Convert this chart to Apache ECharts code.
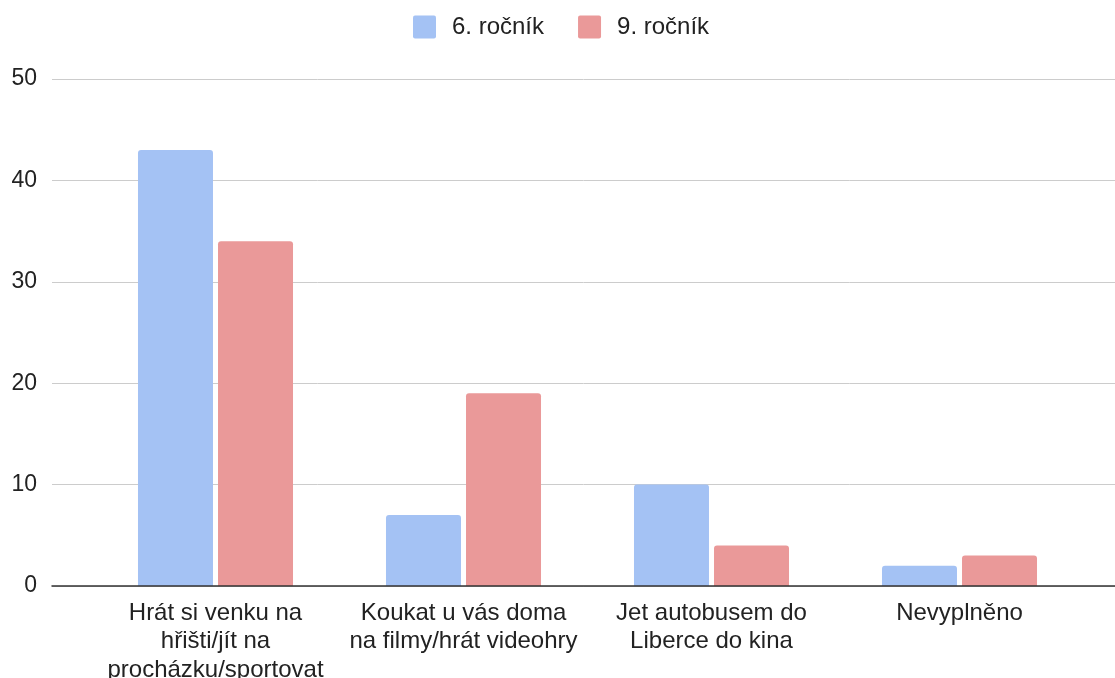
<!DOCTYPE html>
<html>
<head>
<meta charset="utf-8">
<script src="https://cdn.jsdelivr.net/npm/echarts@6/dist/echarts.min.js"></script>
<style>
  html, body { margin: 0; padding: 0; background: #fff; }
  #chart { width: 1115px; height: 678px; }
</style>
</head>
<body>
<div id="chart"></div>
<script>
  // data
  var categories = [
    'Hrát si venku na\nhřišti/jít na\nprocházku/sportovat',
    'Koukat u vás doma\nna filmy/hrát videohry',
    'Jet autobusem do\nLiberce do kina',
    'Nevyplněno'
  ]
  var seriesNames = ['6. ročník', '9. ročník']
  var grade6 = [43, 7, 10, 2]
  var grade9 = [34, 19, 4, 3]
  var yTicks = [0, 10, 20, 30, 40, 50]

  var font = '"Liberation Sans", Arial, sans-serif'
  var chart = echarts.init(document.getElementById('chart'))

  var option = {
    animation: false,
    color: ['#a4c2f4', '#ea9999'],
    legend: {
      data: seriesNames,
      left: 408,
      top: 10,
      itemWidth: 23,
      itemHeight: 23,
      itemGap: 34,
      icon: 'path://M2,0 H21 Q23,0 23,2 V21 Q23,23 21,23 H2 Q0,23 0,21 V2 Q0,0 2,0 Z',
      textStyle: { fontFamily: font, fontSize: 24, lineHeight: 23, color: '#222', padding: [0, 0, 0, 11] }
    },
    grid: [
      // full-width grid: gridlines, y labels, baseline
      { left: 52, right: 0, top: 79, bottom: 92, outerBoundsMode: 'none' },
      // narrower grid the bars sit in
      { left: 91.5, width: 992, top: 79, bottom: 92, outerBoundsMode: 'none' }
    ],
    xAxis: [
      {
        gridIndex: 0, type: 'value', min: 0, max: 1, z: 5,
        axisLine: { show: true, lineStyle: { color: '#333', width: 1.5 } },
        axisTick: { show: false }, axisLabel: { show: false }, splitLine: { show: false }
      },
      {
        gridIndex: 1, type: 'category', data: categories,
        axisLine: { show: false }, axisTick: { show: false },
        axisLabel: { fontFamily: font, fontSize: 24, color: '#222', lineHeight: 28.5, margin: 13, interval: 0 }
      }
    ],
    yAxis: [
      {
        gridIndex: 0, type: 'value', min: yTicks[0], max: yTicks[yTicks.length - 1], interval: 10,
        axisLine: { show: false }, axisTick: { show: false },
        axisLabel: { fontFamily: font, fontSize: 23, color: '#222', margin: 15 },
        splitLine: { lineStyle: { color: '#cccccc', width: 1 } }
      },
      {
        gridIndex: 1, type: 'value', min: yTicks[0], max: yTicks[yTicks.length - 1], show: false
      }
    ],
    series: [
      {
        name: seriesNames[0], type: 'bar', xAxisIndex: 1, yAxisIndex: 1,
        data: grade6, barWidth: 75, barGap: '6.7%',
        itemStyle: { borderRadius: [3, 3, 0, 0] }
      },
      {
        name: seriesNames[1], type: 'bar', xAxisIndex: 1, yAxisIndex: 1,
        data: grade9, barWidth: 75, barGap: '6.7%',
        itemStyle: { borderRadius: [3, 3, 0, 0] }
      }
    ]
  }
  chart.setOption(option)
</script>
</body>
</html>
